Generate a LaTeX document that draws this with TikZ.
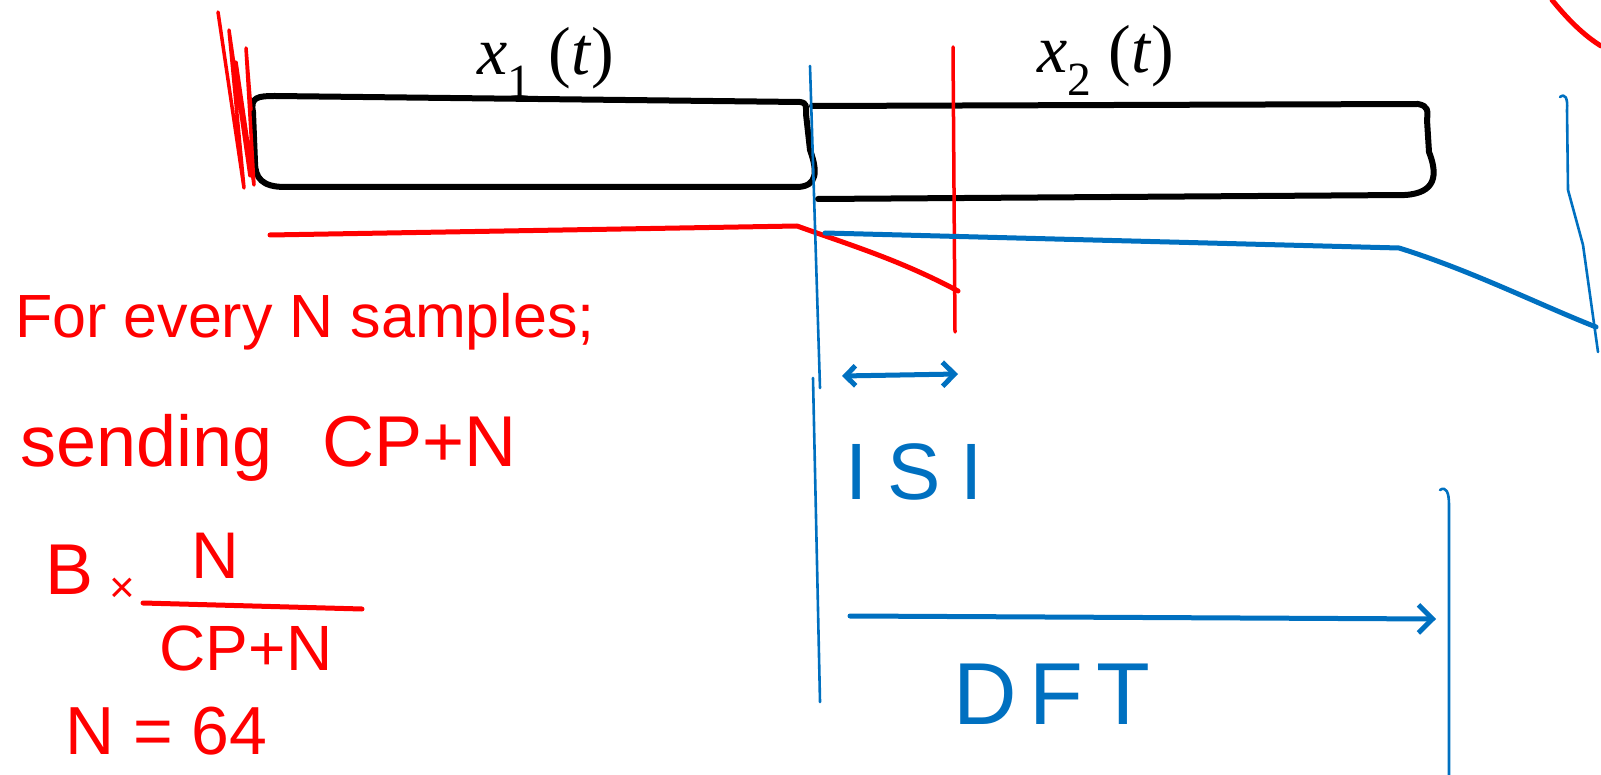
\documentclass[tikz,border=0pt]{standalone}
\usepackage{fontspec}
\setmainfont{Liberation Sans}
\newfontfamily\labelfont{Liberation Serif}
\usetikzlibrary{arrows.meta}
\definecolor{inkred}{RGB}{255,0,0}
\definecolor{inkblue}{RGB}{0,112,192}

\begin{document}
\begin{tikzpicture}[x=1pt, y=-1pt, line cap=round, line join=round,
    blackink/.style={draw=black, line width=6pt},
    redink/.style={draw=inkred, line width=5pt},
    redthin/.style={draw=inkred, line width=3.5pt},
    blueink/.style={draw=inkblue, line width=5pt},
    bluethin/.style={draw=inkblue, line width=2.6pt},
    redtext/.style={text=inkred, inner sep=0pt},
    bluetext/.style={text=inkblue, inner sep=0pt}]

  %% ==== 两个符号块 ====
  \draw[blackink] (253,112) .. controls (250,97) and (258,96) .. (275,96) -- (800,102)
    .. controls (807,103) and (806,106) .. (806,114) -- (810,150)
    .. controls (818,172) and (817,186) .. (798,187) -- (285,187)
    .. controls (262,187) and (255,178) .. (255,162) -- cycle;
  \draw[blackink] (812,106) -- (1418,104) .. controls (1428,106) and (1428,110) .. (1427,120)
    -- (1429,152) .. controls (1438,175) and (1436,193) .. (1405,195) -- (818,199);

  % 左边的红色涂抹
  \draw[redthin] (218,12) -- (244,188) -- (229,30) -- (250,176) -- (236,62) -- (254,185) -- (246,48) -- (251,110);

  %% ==== 标签 ====
  \node[inner sep=0pt, font=\labelfont\fontsize{68}{76}\selectfont] (lblxa) at (546,62)
    {\textit{x}\textsubscript{1} (\textit{t})};
  \node[inner sep=0pt, font=\labelfont\fontsize{68}{76}\selectfont] (lblxb) at (1106,60)
    {\textit{x}\textsubscript{2} (\textit{t})};

  %% ==== 红色：CP 与延迟 ====
  \coordinate (redA) at (270,235);
  \coordinate (redB) at (797,226);
  \coordinate (redC) at (958,291);
  \draw[redink] (redA) -- (redB) .. controls (850,245) and (900,260) .. (redC);
  \draw[redthin] (953,47) -- (955,332);
  \draw[redink] (1552,0) .. controls (1570,22) and (1585,36) .. (1601,46);

  %% ==== 蓝色：DFT 窗口 ====
  \draw[bluethin] (810,66) -- (820,388);
  \draw[bluethin] (813,378) -- (820,702);
  \draw[blueink] (825,233) -- (1399,248) .. controls (1470,270) and (1540,305) .. (1596,327);
  \draw[bluethin] (1560,97) .. controls (1565,93) and (1568,98) .. (1567,110)
    -- (1568,190) -- (1583,245) -- (1598,352);
  \draw[bluethin] (1440,490) .. controls (1446,486) and (1449,492) .. (1449,505) -- (1449,775);

  % ISI 箭头与 DFT 箭头
  \coordinate (isiL) at (842,376);
  \coordinate (isiR) at (958,374);
  \draw[blueink, {Straight Barb[length=10pt]}-{Straight Barb[length=12pt]}] (isiL) -- (isiR);
  \node[bluetext, font=\fontsize{80}{88}\selectfont\addfontfeatures{LetterSpace=25}] (isi) at (914,472) {ISI};

  \coordinate (dftL) at (850,616);
  \coordinate (dftR) at (1436,619);
  \draw[blueink, -{Straight Barb[length=14pt]}] (dftL) -- (dftR);
  \node[bluetext, font=\fontsize{88}{96}\selectfont\addfontfeatures{LetterSpace=15}] (dft) at (1052,694) {DFT};

  %% ==== 左边的红色说明 ====
  \node[redtext, anchor=west, font=\fontsize{61}{68}\selectfont] (txtevery) at (15,322) {For every N samples;};
  \node[redtext, anchor=west, font=\fontsize{72}{80}\selectfont] (txtsend) at (20,448) {sending\hspace{50pt}CP+N};

  % B x N/(CP+N)
  \node[redtext, font=\fontsize{72}{80}\selectfont] (fracB) at (70,570) {B};
  \node[redtext, font=\fontsize{44}{52}\selectfont] (fractimes) at (122,590) {×};
  \node[redtext, font=\fontsize{66}{74}\selectfont] (fracnum) at (215,556) {N};
  \node[redtext, font=\fontsize{64}{72}\selectfont] (fracden) at (246,648) {CP+N};
  \coordinate (barL) at (143,603);
  \coordinate (barR) at (362,609);
  \draw[redink] (barL) -- (barR);

  \node[redtext, anchor=west, font=\fontsize{68}{76}\selectfont] (txtnval) at (65,731) {N = 64};

  \pgfresetboundingbox
  \path[use as bounding box] (0,0) rectangle (1601,775);
\end{tikzpicture}
\end{document}
